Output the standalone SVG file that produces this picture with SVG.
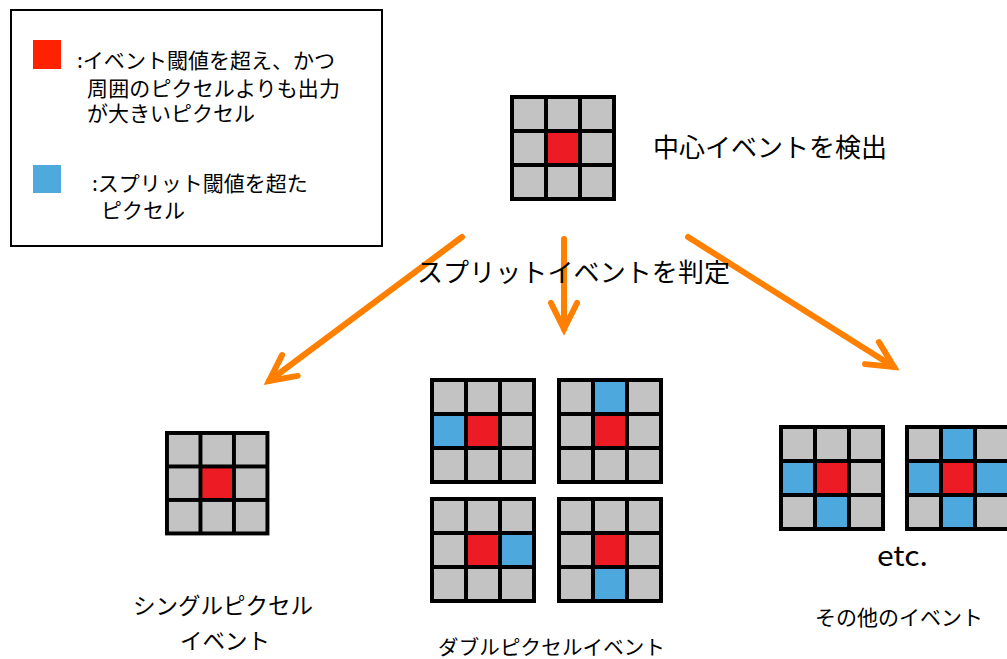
<svg xmlns="http://www.w3.org/2000/svg" xmlns:xlink="http://www.w3.org/1999/xlink" width="1007" height="659" viewBox="0 0 1007 659">
<style>
.t{font-family:"Noto Sans CJK JP","Noto Sans",sans-serif;fill:#000}
.red{fill:#ED1C24}
.blue{fill:#4CA8DD}
.cell{fill:#C3C3C3}
.arr{stroke:#FF8000;stroke-width:6;fill:none;stroke-linecap:round}
</style>
<defs>
<g id="grid">
<rect x="0" y="0" width="106" height="106" fill="#000"/>
<rect class="cell" x="4" y="4" width="30" height="30"/>
<rect class="cell" x="38" y="4" width="30" height="30"/>
<rect class="cell" x="72" y="4" width="30" height="30"/>
<rect class="cell" x="4" y="38" width="30" height="30"/>
<rect class="red" x="38" y="38" width="30" height="30"/>
<rect class="cell" x="72" y="38" width="30" height="30"/>
<rect class="cell" x="4" y="72" width="30" height="30"/>
<rect class="cell" x="38" y="72" width="30" height="30"/>
<rect class="cell" x="72" y="72" width="30" height="30"/>
</g>
<marker id="head" markerUnits="userSpaceOnUse" markerWidth="60" markerHeight="60" refX="0" refY="0" orient="auto" overflow="visible" viewBox="-30 -30 60 60">
<path d="M-26,-13 L0,0 L-26,13" stroke="#FF8000" stroke-width="6" fill="none" stroke-linecap="round" stroke-linejoin="miter"/>
</marker>
</defs>

<g id="legend">
<rect x="11" y="10" width="371" height="236" fill="#fff" stroke="#000" stroke-width="2"/>
<rect x="33" y="40" width="28" height="29" fill="#FF2200"/>
<text class="t" x="77" y="68" font-size="21" textLength="258" lengthAdjust="spacing">:イベント閾値を超え、かつ</text>
<text class="t" x="87" y="96" font-size="21" textLength="253" lengthAdjust="spacing">周囲のピクセルよりも出力</text>
<text class="t" x="87" y="121" font-size="21">が大きいピクセル</text>
<rect x="33" y="165" width="28" height="28" fill="#4EA9DD"/>
<text class="t" x="92" y="191" font-size="21">:スプリット閾値を超た</text>
<text class="t" x="101" y="218" font-size="21">ピクセル</text>
</g>

<g id="connectors">
<line class="arr" x1="462" y1="237" x2="269" y2="381" marker-end="url(#head)"/>
<line class="arr" x1="564" y1="239" x2="564" y2="329" marker-end="url(#head)"/>
<line class="arr" x1="688" y1="237" x2="894" y2="367" marker-end="url(#head)"/>
</g>

<g id="center-event">
<use xlink:href="#grid" x="510" y="95"/>
<text class="t" x="653" y="157" font-size="26" textLength="234" lengthAdjust="spacing">中心イベントを検出</text>
</g>

<g id="split-label">
<text class="t" x="417" y="282" font-size="26" textLength="313" lengthAdjust="spacing">スプリットイベントを判定</text>
</g>

<g id="single-event">
<use xlink:href="#grid" x="0" y="0" transform="translate(165,431) scale(0.985)"/>
<text class="t" x="223" y="614" font-size="22.5" text-anchor="middle">シングルピクセル</text>
<text class="t" x="225" y="649" font-size="22.5" text-anchor="middle">イベント</text>
</g>

<g id="double-event">
<use xlink:href="#grid" x="430" y="378"/>
<rect class="blue" x="434" y="416" width="30" height="30"/>
<use xlink:href="#grid" x="557" y="378"/>
<rect class="blue" x="595" y="382" width="30" height="30"/>
<use xlink:href="#grid" x="430" y="497"/>
<rect class="blue" x="502" y="535" width="30" height="30"/>
<use xlink:href="#grid" x="557" y="497"/>
<rect class="blue" x="595" y="569" width="30" height="30"/>
<text class="t" x="438" y="655" font-size="20.5" textLength="227" lengthAdjust="spacing">ダブルピクセルイベント</text>
</g>

<g id="other-event">
<use xlink:href="#grid" x="779" y="425"/>
<rect class="blue" x="783" y="463" width="30" height="30"/>
<rect class="blue" x="817" y="497" width="30" height="30"/>
<use xlink:href="#grid" x="905" y="425"/>
<rect class="blue" x="943" y="429" width="30" height="30"/>
<rect class="blue" x="909" y="463" width="30" height="30"/>
<rect class="blue" x="977" y="463" width="30" height="30"/>
<rect class="blue" x="943" y="497" width="30" height="30"/>
<text class="t" x="877" y="566" font-size="28" textLength="51" lengthAdjust="spacingAndGlyphs">etc.</text>
<text class="t" x="815" y="625" font-size="21" textLength="168" lengthAdjust="spacing">その他のイベント</text>
</g>
</svg>
